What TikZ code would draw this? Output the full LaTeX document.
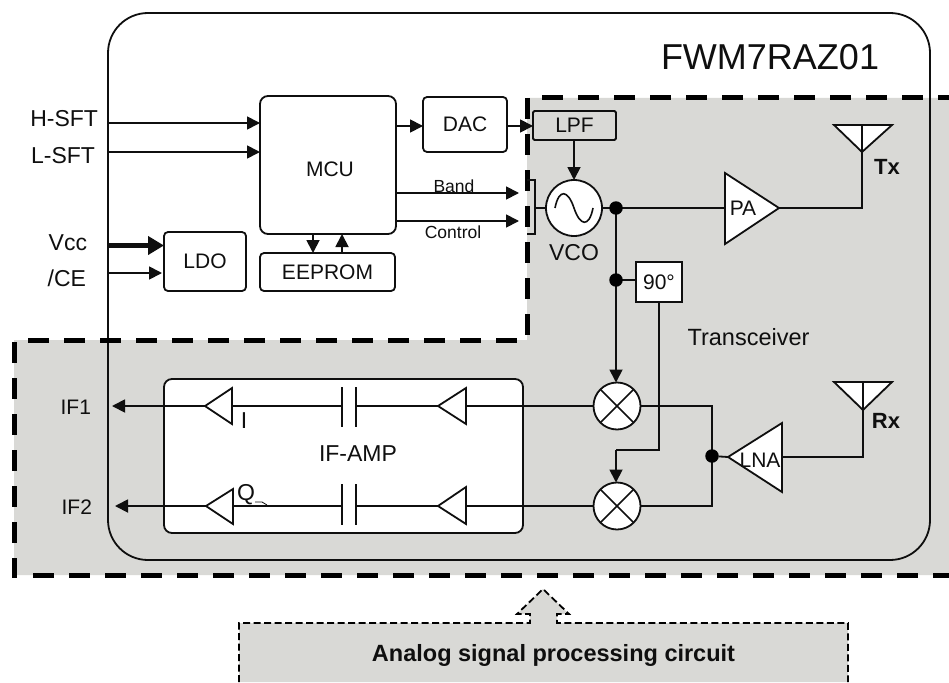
\documentclass[tikz,border=0pt]{standalone}
\usepackage{fontspec}
\setmainfont{Liberation Sans}
\usetikzlibrary{arrows.meta}
\definecolor{panel}{RGB}{217,217,214}
\definecolor{ink}{RGB}{15,15,15}
\newcommand{\fs}[1]{\fontsize{#1}{#1}\selectfont}
\tikzset{
  x=1pt,y=-1pt,
  every node/.style={text=ink,inner sep=0pt,outer sep=0pt},
  wire/.style={draw=ink,line width=1.8pt},
  sig/.style={wire,-{Triangle[length=13pt,width=13pt]}},
  block/.style={draw=ink,line width=1.8pt,fill=white,rounded corners=4pt,align=center},
  tri/.style={draw=ink,line width=1.8pt,fill=white,line join=miter},
  bound/.style={draw=black,line width=5pt,dash pattern=on 21pt off 15pt},
  dot/.style={circle,fill=black,minimum size=13.5pt},
  lab/.style={font=\fs{21}},
  big/.style={font=\fs{23}},
  small/.style={font=\fs{17.5}},
  boldlab/.style={font=\fs{22}\bfseries},
  mixer/.style={circle,draw=ink,line width=1.8pt,fill=white,minimum size=47pt},
}
\begin{document}
\begin{tikzpicture}
\useasboundingbox (0,0) rectangle (949,682);
\fill[white] (0,0) rectangle (949,682);
% analog panel
\fill[panel] (527,98) -- (949,98) -- (949,575) -- (14,575) -- (14,340) -- (527,340) -- cycle;
% module outline
\node[draw=ink,line width=1.8pt,rounded corners=40pt,minimum width=822pt,minimum height=547pt,anchor=north west] (module) at (108,13) {};
% boundary of the analog part
\draw[bound] (542,98) -- (949,98);
\draw[bound] (527,98) -- (527,340);
\draw[bound] (28,340) -- (527,340);
\draw[bound] (14,342) -- (14,578);
\draw[bound] (33,575) -- (949,575);
% bottom callout
\fill[panel] (239,682) -- (239,623) -- (530,623) -- (530,614) -- (517,614) -- (543,589) -- (569,614) -- (557,614) -- (557,623) -- (848,623) -- (848,682) -- cycle;
\draw[black,line width=1.8pt,dash pattern=on 7pt off 3.5pt] (239,682) -- (239,623) -- (530,623) -- (530,614) -- (517,614) -- (543,589) -- (569,614) -- (557,614) -- (557,623) -- (848,623) -- (848,682);
\node[font=\fs{23.5}\bfseries] (cap) at (553.5,655) {Analog signal processing circuit};
\node[font=\fs{36}] (title) at (770,57) {FWM7RAZ01};
% blocks
\node[block,rounded corners=8pt,minimum width=136pt,minimum height=138pt,anchor=north west] (mcu) at (260,96) {};
\node[lab] (mcut) at (330,169) {MCU};
\node[block,minimum width=135pt,minimum height=38pt,anchor=north west,lab] (eeprom) at (260,253) {EEPROM};
\node[block,minimum width=82pt,minimum height=59pt,anchor=north west,lab] (ldo) at (164,232) {LDO};
\node[block,minimum width=84pt,minimum height=55pt,anchor=north west,lab] (dac) at (423,97) {DAC};
\node[block,fill=panel,rounded corners=1.5pt,minimum width=83pt,minimum height=29pt,anchor=north west,lab] (lpf) at (533,111) {LPF};
\node[block,rounded corners=0pt,minimum width=46pt,minimum height=40pt,anchor=north west,lab] (ph) at (636,262) {90°};
\node[draw=ink,line width=1.8pt,fill=white,rounded corners=8pt,minimum width=359pt,minimum height=154pt,anchor=north west] (ifamp) at (164,379) {};
\node[big] (ifampt) at (358,454) {IF-AMP};
% VCO
\node[circle,draw=ink,line width=1.8pt,fill=white,minimum size=56pt] (vco) at (574,208) {};
\draw[ink,line width=1.6pt] (555,208) .. controls (559,188) and (568,190) .. (574,208) .. controls (580,226) and (589,228) .. (593,208);
\node[big] (vcot) at (574,253) {VCO};
% mixers
\node[mixer] (mx1) at (617,406) {};
\node[mixer] (mx2) at (617,506) {};
\foreach \m in {mx1,mx2} \draw[ink,line width=1.6pt] (\m.north west) -- (\m.south east) (\m.north east) -- (\m.south west);
% named points
\coordinate (hin) at (108,123);
\coordinate (lin) at (108,152);
\coordinate (vin) at (108,245.5);
\coordinate (cin) at (108,273);
\coordinate (cend) at (162,273);
\coordinate (j1) at (616,208);
\coordinate (j2) at (616,280);
\coordinate (j3) at (712,456);
\coordinate (if1) at (112,406);
\coordinate (if2) at (115,506);
\coordinate (bandend) at (519,193);
\coordinate (ctrlend) at (519,221);
% inputs
\draw[sig] (hin) -- (mcu.west |- hin);
\draw[sig] (lin) -- (mcu.west |- lin);
\draw[draw=ink,line width=5.5pt,-{Triangle[length=16pt,width=18pt]}] (vin) -- (ldo.west |- vin);
\draw[sig] (cin) -- (cend);
\draw[sig] (mcu.south -| 313,0) -- (eeprom.north -| 313,0);
\draw[sig] (eeprom.north -| 342,0) -- (mcu.south -| 342,0);
\draw[sig] (mcu.east |- 0,126) -- (dac.west |- 0,126);
\draw[sig] (dac.east |- 0,126) -- (lpf.west |- 0,126);
\draw[sig] (lpf.south -| vco.north) -- (vco.north);
\draw[sig] (mcu.east |- bandend) -- (bandend);
\draw[sig] (mcu.east |- ctrlend) -- (ctrlend);
% bracket
\draw[ink,line width=1.6pt] (527,180) -- (535,180) -- (535,234) -- (527,234) (535,208) -- (vco.west);
\node[small] (band) at (454,186) {Band};
\node[small] (ctrl) at (453,232) {Control};
% TX
\draw[tri] (725,173) -- (779,208) coordinate (pat) -- (725,244) -- cycle;
\draw[wire] (vco.east) -- (vco.east -| 725,0);
\node[lab] (pa) at (743,208) {PA};
\coordinate (txa) at (862,152);
\draw[wire] (pat) -- (862,208) -- (txa);
\draw[tri] (834,125) -- (892,125) -- (txa) -- cycle;
\draw[wire] (txa) -- (862,125);
\node[boldlab] (tx) at (887,167) {Tx};
\node[font=\fs{23.5}] (trx) at (748.5,337) {Transceiver};
% LO
\draw[sig] (j1) -- (j1 |- mx1.north);
\draw[wire] (j2) -- (ph.west |- j2);
\draw[wire] (ph.south -| 659,0) -- (659,450) -- (616,450) coordinate (lo2);
\draw[sig] (lo2) -- (lo2 |- mx2.north);
\node[dot] (d1) at (j1) {};
\node[dot] (d2) at (j2) {};
% RX
\draw[wire] (mx1.east) -- (712,406) -- (712,506) -- (mx2.east);
\node[dot] (d3) at (j3) {};
\draw[wire] (d3) -- (728,457) coordinate (lnat);
\draw[tri] (lnat) -- (782,423) -- (782,492) -- cycle;
\node[lab] (lna) at (760,460) {LNA};
\coordinate (rxa) at (863,410);
\draw[wire] (782,457) -- (863,457) -- (rxa);
\draw[tri] (834,382) -- (892,382) -- (rxa) -- cycle;
\draw[wire] (rxa) -- (863,382);
\node[boldlab] (rx) at (886,421) {Rx};
% IF chain
\foreach \y/\t/\b/\cc/\bt/\tipx/\basex/\tt/\tb in {406/388/424/387/427/205/232/388/424,506/489/524/484/525/206/233/487/524}{
  \draw[wire] (593,\y) -- (\basex,\y);
  \fill[white] (343,\cc) rectangle (355,\bt);
  \draw[wire] (342,\cc) -- (342,\bt) (356,\cc) -- (356,\bt);
  \draw[tri] (466,\tt) -- (466,\tb) -- (438,\y) -- cycle;
  \draw[tri] (\basex,\t) -- (\basex,\b) -- (\tipx,\y) -- cycle;
}
\coordinate (a1) at (205,406);
\coordinate (a2) at (206,506);
\draw[sig] (a1) -- (if1);
\draw[sig] (a2) -- (if2);
\node[big] (ti) at (244,421) {I};
\node[big] (tq) at (246,495) {Q};
\draw[ink,line width=.8pt] (255,502) -- (262,502) -- (267,505);
% labels left
\node[big,anchor=east] (lh) at (98,119) {H-SFT};
\node[big,anchor=east] (ll) at (95,156) {L-SFT};
\node[big,anchor=east] (lv) at (87,243) {Vcc};
\node[big,anchor=east] (lc) at (86,278) {/CE};
\node[lab,anchor=east] (l1) at (91,407) {IF1};
\node[lab,anchor=east] (l2) at (92,507) {IF2};
\end{tikzpicture}
\end{document}
